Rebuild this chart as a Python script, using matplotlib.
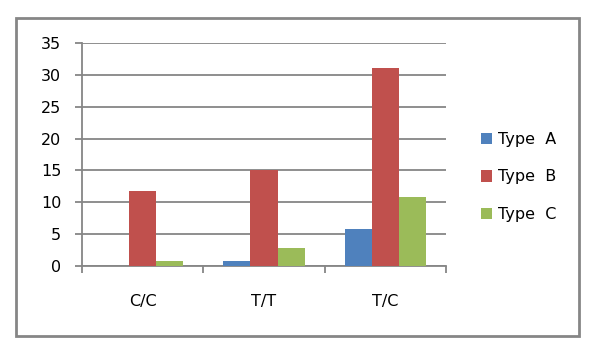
import numpy as np
import matplotlib.pyplot as plt
from matplotlib.patches import Rectangle

categories = ['C/C', 'T/T', 'T/C']
type_a = [0, 0.8, 5.8]
type_b = [11.8, 15, 31]
type_c = [0.8, 2.8, 10.8]
series_names = ['Type  A', 'Type  B', 'Type  C']
colors = ['#4F81BD', '#C0504D', '#9BBB59']
grey = '#868686'

plt.rcParams['font.family'] = 'DejaVu Sans'
plt.rcParams['font.size'] = 11.5

fig = plt.figure(figsize=(5.98, 3.6), dpi=100)
ax = fig.add_axes([82 / 598, 1 - 266 / 360, (446 - 82) / 598, (266 - 43) / 360])

x = np.arange(len(categories))
w = 27 / 121.3
for i, vals in enumerate([type_a, type_b, type_c]):
    ax.bar(x + (i - 1) * w, vals, w, color=colors[i], label=series_names[i], zorder=3)

ax.set_xlim(-0.5, 2.5)
ax.set_ylim(0, 35)
ax.set_yticks(np.arange(0, 36, 5))
ax.yaxis.grid(True, color=grey, lw=1.3, zorder=0)
ax.set_xticks(x)
ax.set_xticklabels(categories)
ax.set_xticks([-0.5, 0.5, 1.5, 2.5], minor=True)

for s in ['top', 'right']:
    ax.spines[s].set_visible(False)
for s in ['left', 'bottom']:
    ax.spines[s].set_color(grey)
    ax.spines[s].set_linewidth(1.3)

ax.tick_params(axis='y', length=5, width=1.3, color=grey, pad=10)
ax.tick_params(axis='x', which='major', length=0, pad=20)
ax.tick_params(axis='x', which='minor', length=5, width=1.3, color=grey)

fig.legend(loc='center left', bbox_to_anchor=(481 / 598, 1 - 177 / 360),
           frameon=False, borderpad=0, borderaxespad=0,
           handlelength=0.7, handleheight=0.7, handletextpad=0.35,
           labelspacing=1.4)

fig.patches.append(Rectangle((15.5 / 598, 1 - 336 / 360), (579 - 15.5) / 598, (336 - 18) / 360,
                             transform=fig.transFigure, fill=False,
                             edgecolor=grey, lw=2))

fig.savefig('out.png', dpi=100)
